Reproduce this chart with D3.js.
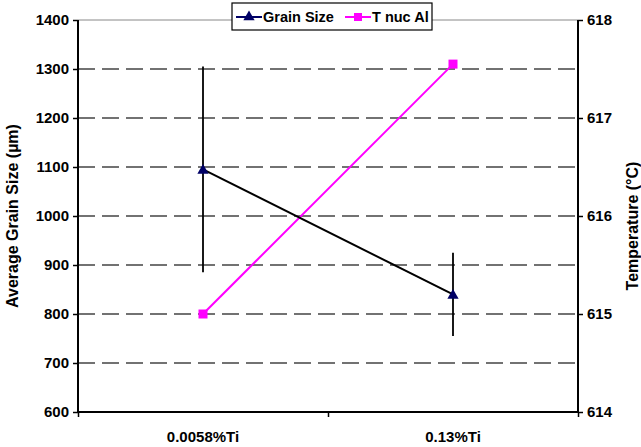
<!DOCTYPE html>
<html>
<head>
<meta charset="utf-8">
<script src="https://d3js.org/d3.v7.min.js"></script>
<style>
  body { margin: 0; background: #fff; }
  text { font-family: "Liberation Sans", Arial, sans-serif; }
</style>
</head>
<body>
<svg width="641" height="447"></svg>
<script>
var categories = ["0.0058%Ti", "0.13%Ti"];
var grainSize = [1095, 840];
var grainErr = [210, 85];
var tNuc = [615.0, 617.55];
var leftTicks = [600, 700, 800, 900, 1000, 1100, 1200, 1300, 1400];
var rightTicks = [614, 615, 616, 617, 618];

var margin = {left: 78, right: 63, top: 20, bottom: 35};
var width = 641 - margin.left - margin.right;
var height = 447 - margin.top - margin.bottom;

var svg = d3.select("svg");
var g = svg.append("g").attr("transform", "translate(" + margin.left + "," + margin.top + ")");

var x = d3.scaleBand().domain(categories).range([0, width]);
var yL = d3.scaleLinear().domain([600, 1400]).range([height, 0]);
var yR = d3.scaleLinear().domain([614, 618]).range([height, 0]);
var cx = function(i) { return x(categories[i]) + x.bandwidth() / 2; };

// gridlines
g.selectAll(".grid")
  .data(leftTicks.filter(function(d) { return d > 600 && d < 1400; }))
  .enter().append("line")
  .attr("x1", 0).attr("x2", width)
  .attr("y1", function(d) { return yL(d); })
  .attr("y2", function(d) { return yL(d); })
  .attr("stroke", "#444").attr("stroke-width", 1.6)
  .attr("stroke-dasharray", "17,7");

// top border
g.append("line").attr("x1", 0).attr("x2", width).attr("y1", 0).attr("y2", 0)
  .attr("stroke", "#888").attr("stroke-width", 1);

// axes
var yAxisL = d3.axisLeft(yL).tickValues(leftTicks).tickSize(5).tickPadding(4).tickFormat(d3.format("d"));
var yAxisR = d3.axisRight(yR).tickValues(rightTicks).tickSize(5).tickPadding(4).tickFormat(d3.format("d"));
var xAxis = d3.axisBottom(d3.scaleLinear().domain([0, 2]).range([0, width]))
  .tickValues([0, 1, 2]).tickSize(5).tickFormat("");

function styleAxis(sel) {
  sel.selectAll(".domain").attr("stroke", "#000").attr("stroke-width", 2);
  sel.selectAll(".tick line").attr("stroke", "#000").attr("stroke-width", 1.5);
  sel.selectAll(".tick text").attr("fill", "#000").style("font-size", "15px")
    .style("font-family", "Liberation Sans, Arial, sans-serif").style("font-weight", "bold");
}

g.append("g").call(yAxisL).call(function(s) { s.select(".domain").attr("d", "M0," + height + "V0"); }).call(styleAxis);
g.append("g").attr("transform", "translate(" + width + ",0)").call(yAxisR)
  .call(function(s) { s.select(".domain").attr("d", "M0," + height + "V0"); }).call(styleAxis);
g.append("g").attr("transform", "translate(0," + height + ")").call(xAxis)
  .call(function(s) { s.select(".domain").attr("d", "M0,0H" + width); }).call(styleAxis);

// category labels
g.selectAll(".cat").data(categories).enter().append("text")
  .attr("x", function(d, i) { return cx(i); })
  .attr("y", height + 30)
  .attr("text-anchor", "middle")
  .style("font-size", "15px").style("font-weight", "bold")
  .text(function(d) { return d; });

// error bars
g.selectAll(".err").data(grainSize).enter().append("line")
  .attr("x1", function(d, i) { return cx(i); })
  .attr("x2", function(d, i) { return cx(i); })
  .attr("y1", function(d, i) { return yL(d + grainErr[i]); })
  .attr("y2", function(d, i) { return yL(d - grainErr[i]); })
  .attr("stroke", "#000").attr("stroke-width", 1.8);

// T nuc line
var lineR = d3.line().x(function(d, i) { return cx(i); }).y(function(d) { return yR(d); });
g.append("path").datum(tNuc).attr("d", lineR)
  .attr("fill", "none").attr("stroke", "#ff00ff").attr("stroke-width", 2);
g.selectAll(".sq").data(tNuc).enter().append("rect")
  .attr("x", function(d, i) { return cx(i) - 4.5; })
  .attr("y", function(d) { return yR(d) - 4.5; })
  .attr("width", 9).attr("height", 9).attr("fill", "#ff00ff");

// grain line
var lineL = d3.line().x(function(d, i) { return cx(i); }).y(function(d) { return yL(d); });
g.append("path").datum(grainSize).attr("d", lineL)
  .attr("fill", "none").attr("stroke", "#000").attr("stroke-width", 2);
var tri = d3.symbol().type(d3.symbolTriangle).size(55);
g.selectAll(".tri").data(grainSize).enter().append("path")
  .attr("d", tri)
  .attr("transform", function(d, i) { return "translate(" + cx(i) + "," + (yL(d) + 1) + ")"; })
  .attr("fill", "#000066");

// axis titles
svg.append("text")
  .attr("transform", "translate(18," + (margin.top + height / 2) + ") rotate(-90)")
  .attr("text-anchor", "middle")
  .style("font-size", "16px").style("font-weight", "bold")
  .text("Average Grain Size (µm)");
svg.append("text")
  .attr("transform", "translate(638," + (margin.top + height / 2 + 10) + ") rotate(-90)")
  .attr("text-anchor", "middle")
  .style("font-size", "16px").style("font-weight", "bold")
  .text("Temperature (°C)");

// legend
var leg = svg.append("g").attr("transform", "translate(232,3)");
leg.append("rect").attr("width", 200).attr("height", 27)
  .attr("fill", "#fff").attr("stroke", "#000").attr("stroke-width", 1.2);
var items = [
  {name: "Grain Size", color: "#000066", line: "#000066", sym: "tri"},
  {name: "T nuc Al", color: "#ff00ff", line: "#ff00ff", sym: "sq"}
];
var offsets = [4, 113];
items.forEach(function(it, i) {
  var lg = leg.append("g").attr("transform", "translate(" + offsets[i] + ",14)");
  lg.append("line").attr("x1", 0).attr("x2", 26).attr("stroke", it.line).attr("stroke-width", 2);
  if (it.sym === "tri") {
    lg.append("path").attr("d", tri).attr("transform", "translate(13,0)").attr("fill", it.color);
  } else {
    lg.append("rect").attr("x", 9).attr("y", -4).attr("width", 8).attr("height", 8).attr("fill", it.color);
  }
  lg.append("text").attr("x", 27).attr("y", 5)
    .style("font-size", "14.5px").style("font-weight", "bold").text(it.name);
});
</script>
</body>
</html>
